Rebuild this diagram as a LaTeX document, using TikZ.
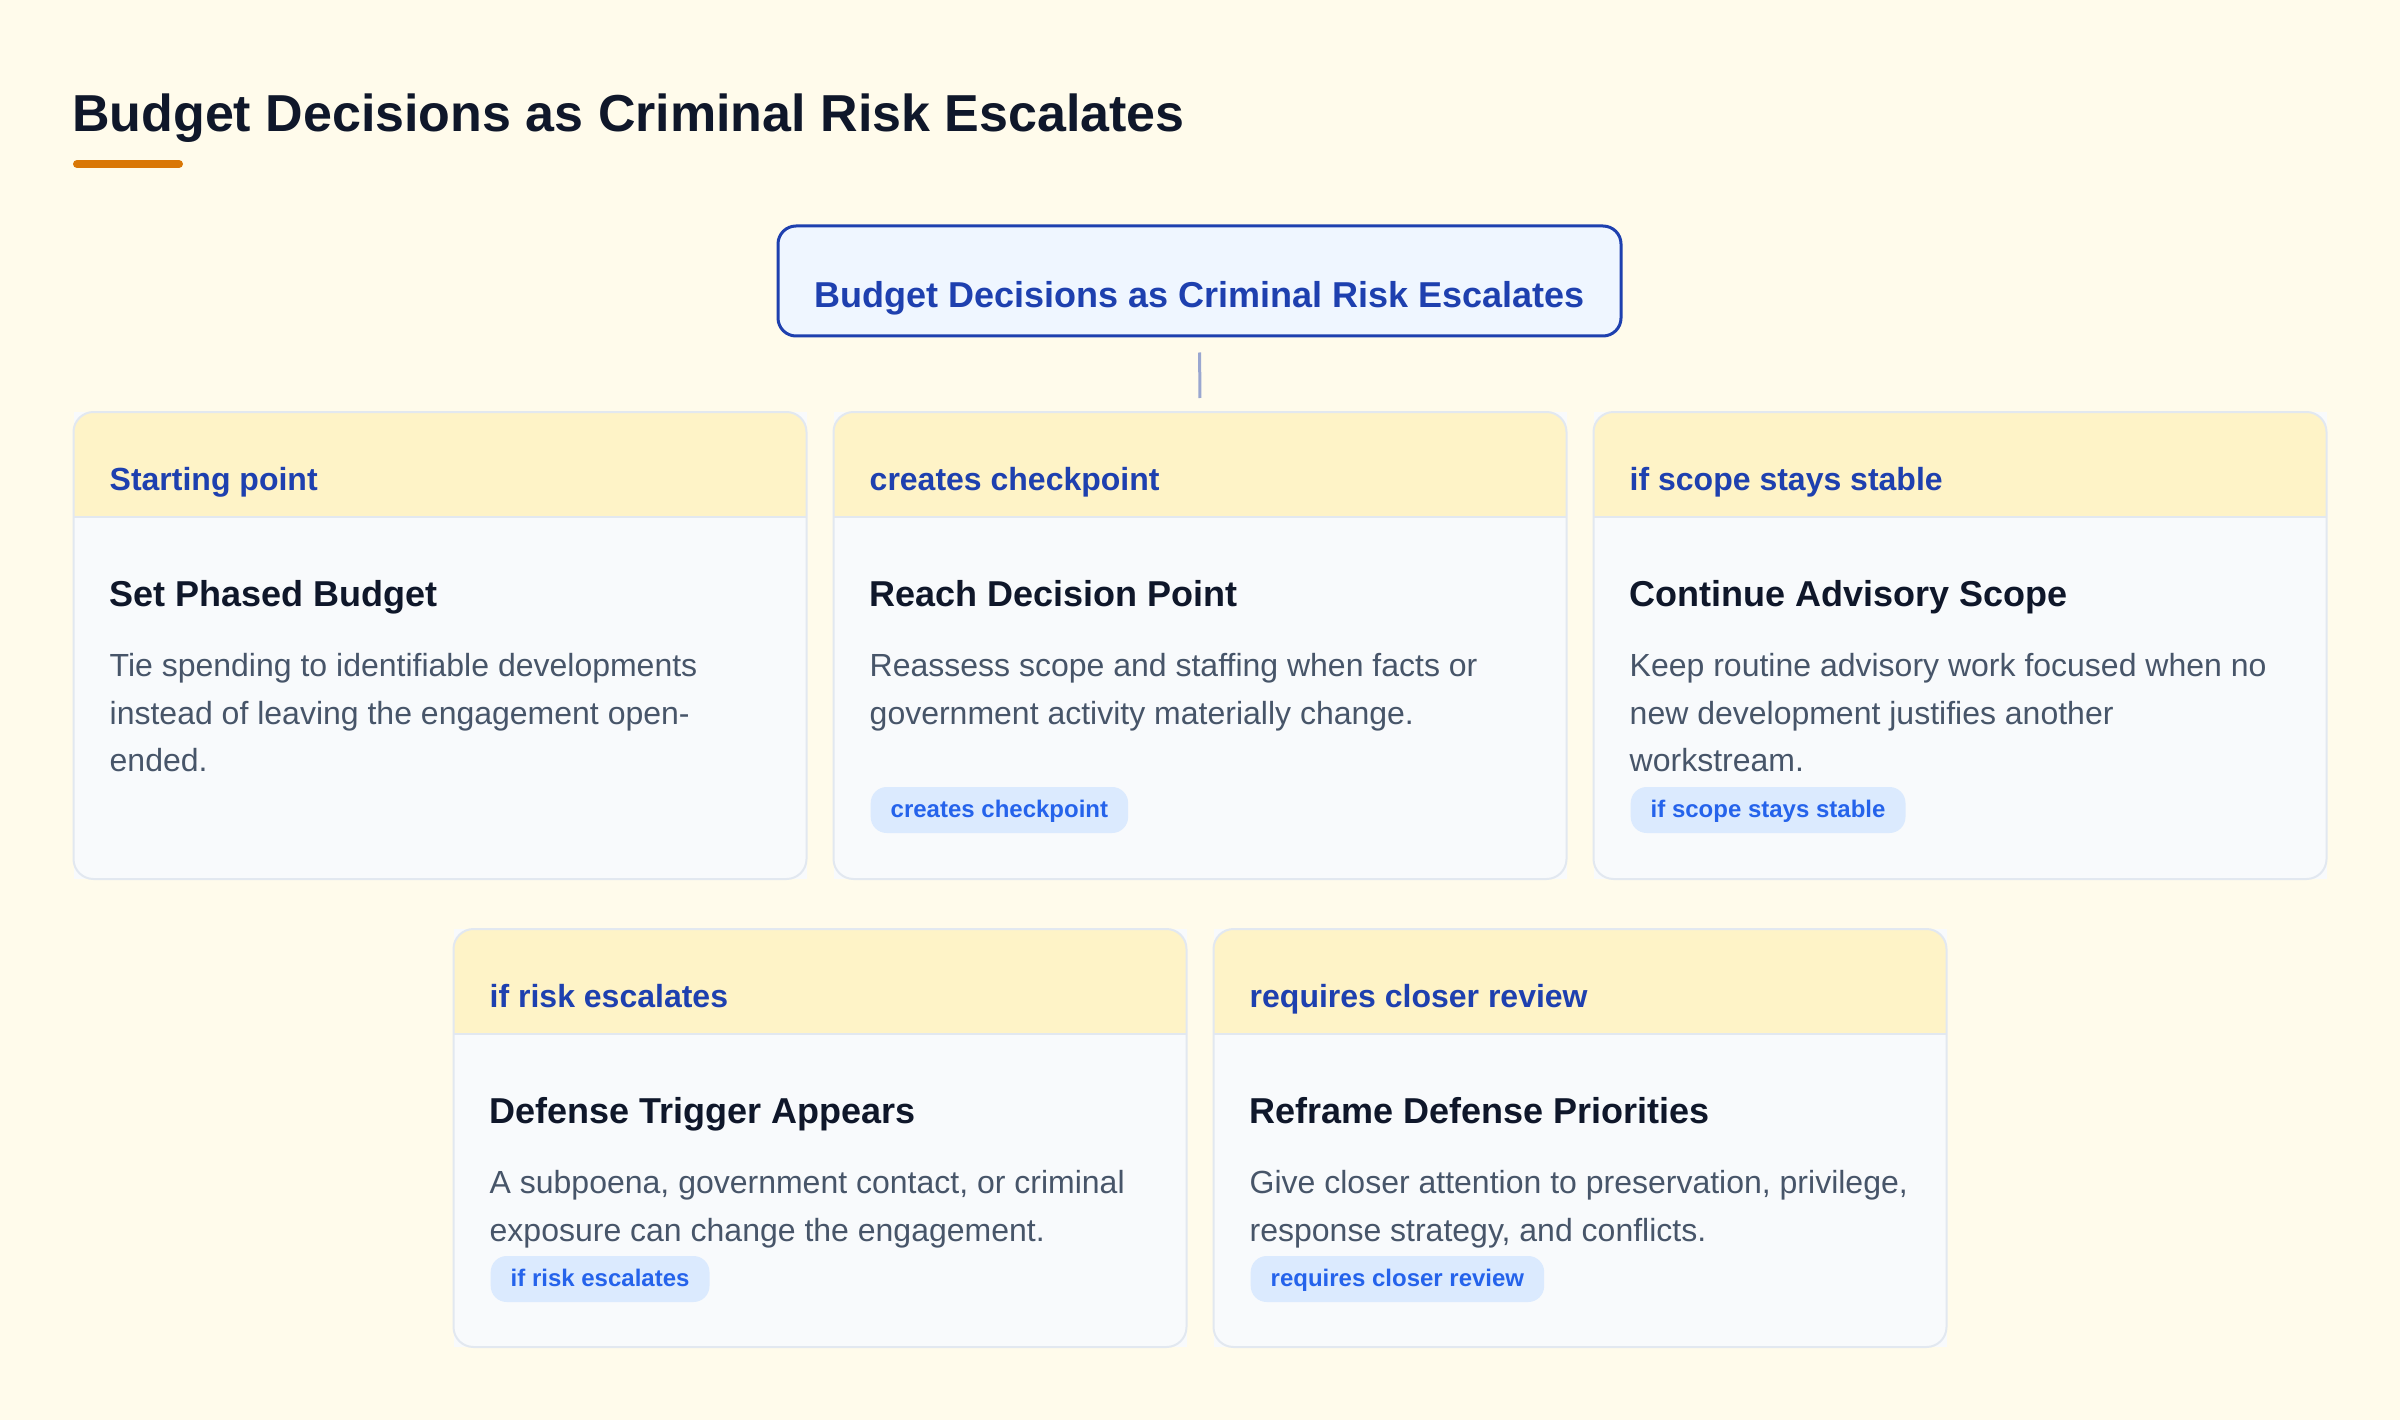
\documentclass[tikz,border=0pt]{standalone}
\usepackage{fontspec}
\setmainfont{Liberation Sans}
\definecolor{bgc}{HTML}{FFFBEB}
\definecolor{titlec}{HTML}{0F172A}
\definecolor{accentc}{HTML}{D97706}
\definecolor{rootfill}{HTML}{EFF6FF}
\definecolor{rootblue}{HTML}{1E40AF}
\definecolor{connc}{HTML}{9AA7D0}
\definecolor{cardline}{HTML}{E2E8F0}
\definecolor{headc}{HTML}{FEF3C7}
\definecolor{bodyfill}{HTML}{F8FAFC}
\definecolor{bodyc}{HTML}{475569}
\definecolor{tagfill}{HTML}{DBEAFE}
\definecolor{tagc}{HTML}{2563EB}
\tikzset{
  titletext/.style={anchor=base west, inner sep=0pt, text=titlec,
    font=\fontsize{52}{60}\selectfont\bfseries},
  accent/.style={draw=accentc, line width=8pt, line cap=round},
  rootbox/.style={draw=rootblue, fill=rootfill, line width=3pt, rounded corners=18pt,
    minimum width=843pt, inner xsep=0pt, inner ysep=0pt, text height=82pt, text depth=28pt,
    text=rootblue, font=\fontsize{36}{42}\selectfont\bfseries, anchor=base},
  conn/.style={draw=connc, line width=3pt, shorten <=15pt, shorten >=14pt},
  cardbody/.style={fill=bodyfill, inner sep=0pt, outer sep=0pt, minimum width=733pt},
  cardborder/.style={draw=cardline, line width=2pt, rounded corners=20pt},
  sepline/.style={draw=cardline, line width=2pt},
  labeltext/.style={anchor=base west, inner sep=0pt, text=rootblue,
    font=\fontsize{32}{38}\selectfont\bfseries},
  headtext/.style={anchor=base west, inner sep=0pt, text=titlec,
    font=\fontsize{36}{42}\selectfont\bfseries},
  bodytext/.style={anchor=base west, inner sep=0pt, text=bodyc,
    font=\fontsize{32}{47.5}\selectfont},
  tagbox/.style={anchor=base west, fill=tagfill, rounded corners=16pt, inner xsep=20pt,
    inner ysep=0pt, text height=30pt, text depth=16pt, text=tagc,
    font=\fontsize{24}{28}\selectfont\bfseries},
}
\newcommand\bline[1]{\hbox{#1}}
% #1 name, #2 x, #3 y, #4 height, #5 label, #6 heading, #7 body
\newcommand\card[7]{%
  \node[cardbody, minimum height=#4pt, anchor=north west] (#1) at (#2,#3) {};
  \begin{scope}
    \clip[rounded corners=20pt] (#1.north west) rectangle (#1.south east);
    \fill[headc] (#1.north west) rectangle ([yshift=-105pt]#1.north east);
  \end{scope}
  \draw[sepline] ([yshift=-105pt]#1.north west) -- ([yshift=-105pt]#1.north east);
  \draw[cardborder] (#1.north west) rectangle (#1.south east);
  \node[labeltext] (#1label) at ({#2+36},{#3+78.5}) {#5};
  \node[headtext] (#1head) at ({#2+36},{#3+194.5}) {#6};
  \node[bodytext] (#1body) at ({#2+36},{#3+264.5}) {\vtop{#7}};
}
\begin{document}
\begin{tikzpicture}[x=1pt,y=-1pt]
  \fill[bgc] (0,0) rectangle (2400,1420);
  \useasboundingbox (0,0) rectangle (2400,1420);

  \node[titletext] (title) at (72,132) {Budget Decisions as Criminal Risk Escalates};
  \draw[accent] (77,164) -- (179,164);

  \node[rootbox] (root) at (1199.5,308) {Budget Decisions as Criminal Risk Escalates};

  \card{c1}{73.5}{412}{467}{Starting point}{Set Phased Budget}%
    {\bline{Tie spending to identifiable developments}\bline{instead of leaving the engagement open-}\bline{ended.}}
  \card{c2}{833.5}{412}{467}{creates checkpoint}{Reach Decision Point}%
    {\bline{Reassess scope and staffing when facts or}\bline{government activity materially change.}}
  \node[tagbox] (c2tag) at (870.5,817) {creates checkpoint};
  \card{c3}{1593.5}{412}{467}{if scope stays stable}{Continue Advisory Scope}%
    {\bline{Keep routine advisory work focused when no}\bline{new development justifies another}\bline{workstream.}}
  \node[tagbox] (c3tag) at (1630.5,817) {if scope stays stable};
  \card{c4}{453.5}{929}{418}{if risk escalates}{Defense Trigger Appears}%
    {\bline{A subpoena, government contact, or criminal}\bline{exposure can change the engagement.}}
  \node[tagbox] (c4tag) at (490.5,1286) {if risk escalates};
  \card{c5}{1213.5}{929}{418}{requires closer review}{Reframe Defense Priorities}%
    {\bline{Give closer attention to preservation, privilege,}\bline{response strategy, and conflicts.}}
  \node[tagbox] (c5tag) at (1250.5,1286) {requires closer review};

  \draw[conn] (root.south) -- (c2.north);
\end{tikzpicture}
\end{document}
